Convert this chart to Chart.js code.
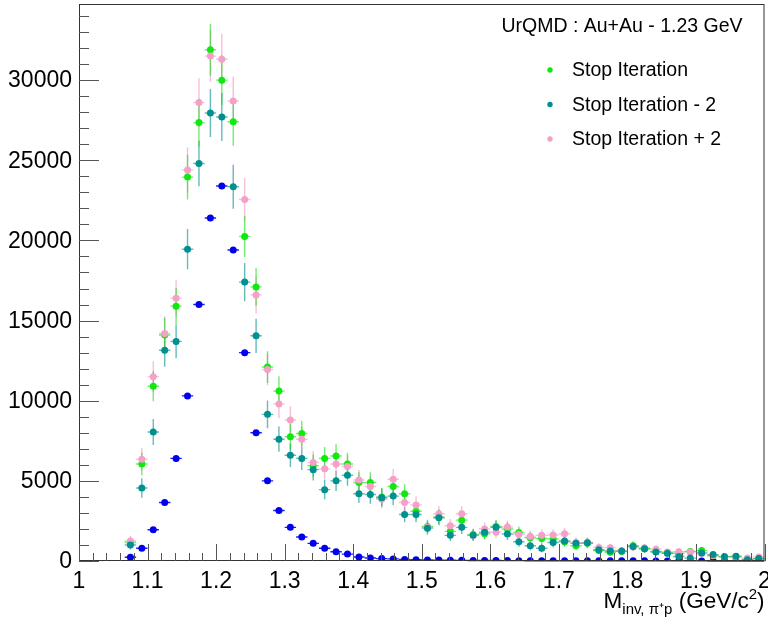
<!DOCTYPE html>
<html>
<head>
<meta charset="utf-8">
<style>
  html, body { margin: 0; padding: 0; background: #fff; }
  #wrap { width: 768px; height: 617px; position: relative; }
</style>
<script src="https://cdn.jsdelivr.net/npm/chart.js@4/dist/chart.umd.min.js"></script>
</head>
<body>
<div id="wrap"><canvas id="chart"></canvas></div>
<script>
// histogram binning: 60 bins per GeV, first filled bin is #4
const BIN_WIDTH = 1 / 60;
const FIRST_BIN = 4;

// counts per bin
const stopIter = [1150, 6050, 10900, 14100, 15900, 23950, 27350, 31900, 30000, 27400,
  20250, 17100, 12100, 10600, 7750, 7950, 5950, 6400, 6550, 6050,
  4900, 4900, 4000, 4650, 4200, 3100, 2150, 2750, 1850, 2550,
  1650, 1700, 2150, 2000, 1780, 1450, 1400, 1380, 1200, 950,
  1100, 650, 540, 600, 950, 760, 600, 500, 470, 600,
  650, 330, 270, 280, 100, 130];
const stopIterMinus2 = [1000, 4550, 8050, 13150, 13700, 19450, 24800, 27950, 27700, 23350,
  17400, 14050, 9150, 7600, 6600, 6400, 5700, 4450, 5000, 5350,
  4200, 4150, 3950, 4050, 2900, 2900, 2050, 2700, 1600, 2100,
  1600, 1800, 2100, 1680, 1200, 950, 800, 1150, 1250, 1100,
  1140, 700, 620, 620, 900, 770, 560, 480, 280, 180,
  500, 400, 270, 290, 80, 150];
const stopIterPlus2 = [1250, 6350, 11500, 14200, 16400, 24400, 28600, 31500, 31300, 28700,
  22550, 16600, 11950, 9800, 8800, 7600, 6150, 5750, 6050, 5900,
  5050, 4650, 3850, 5100, 3650, 3500, 2100, 2950, 2200, 2950,
  1600, 2000, 1800, 2120, 1650, 1550, 1600, 1620, 1700, 1150,
  1150, 850, 820, 640, 880, 820, 740, 560, 580, 560,
  470, 350, 260, 250, 180, 250];
const reference = [230, 800, 1950, 3650, 6400, 10300, 16000, 21400, 23400, 19400,
  13000, 8000, 5000, 3150, 2100, 1500, 1100, 800, 580, 430,
  250, 190, 150, 130, 90, 75, 65, 55, 45, 40,
  35, 30, 28, 25, 22, 20, 18, 16, 15, 14,
  12, 11, 10, 9, 8, 8, 7, 6, 6, 5,
  5, 4, 4, 3, 3, 3];

const xTicks = [1, 1.1, 1.2, 1.3, 1.4, 1.5, 1.6, 1.7, 1.8, 1.9, 2];
const xTickLabels = ["1", "1.1", "1.2", "1.3", "1.4", "1.5", "1.6", "1.7", "1.8", "1.9", "2"];
const yTicks = [0, 5000, 10000, 15000, 20000, 25000, 30000];
const yTickLabels = ["0", "5000", "10000", "15000", "20000", "25000", "30000"];

const FONT = '"Liberation Sans", Arial, Helvetica, sans-serif';

function toPoints(counts) {
  return counts.map((v, i) => ({ x: 1 + (FIRST_BIN + i + 0.5) * BIN_WIDTH, y: v }));
}

// error bars (+-half bin in x, statistical in y) drawn under the markers
const errorBars = {
  id: "errorBars",
  beforeDatasetsDraw(chart) {
    const ctx = chart.ctx;
    const xs = chart.scales.x, ys = chart.scales.y;
    ctx.save();
    chart.data.datasets.forEach((ds) => {
      ctx.strokeStyle = ds.barColor;
      ctx.lineWidth = 1.4;
      ds.data.forEach((p) => {
        const px = xs.getPixelForValue(p.x);
        const py = ys.getPixelForValue(p.y);
        const e = ds.errScale * Math.sqrt(p.y);
        ctx.beginPath();
        ctx.moveTo(xs.getPixelForValue(p.x - BIN_WIDTH / 2), py);
        ctx.lineTo(xs.getPixelForValue(p.x + BIN_WIDTH / 2), py);
        ctx.moveTo(px, ys.getPixelForValue(p.y + e));
        ctx.lineTo(px, ys.getPixelForValue(Math.max(0, p.y - e)));
        ctx.stroke();
      });
    });
    ctx.restore();
  },
};

// ROOT style frame, inward ticks, labels, title and legend
const rootFrame = {
  id: "rootFrame",
  afterDraw(chart) {
    const ctx = chart.ctx;
    const a = chart.chartArea;
    const xs = chart.scales.x, ys = chart.scales.y;
    ctx.save();

    // frame
    ctx.strokeStyle = "#333";
    ctx.lineWidth = 1;
    ctx.strokeRect(a.left + 0.5, a.top + 0.5, a.right - a.left - 1, a.bottom - a.top - 1);

    // y ticks
    ctx.strokeStyle = "#555";
    ctx.beginPath();
    for (let v = 0; v <= ys.max; v += 1000) {
      const py = Math.round(ys.getPixelForValue(v)) + 0.5;
      const len = v % 5000 === 0 ? 20 : 10;
      ctx.moveTo(a.left, py);
      ctx.lineTo(a.left + len, py);
    }
    // x ticks
    for (let k = 0; k <= 50; k++) {
      const px = Math.round(xs.getPixelForValue(1 + k * 0.02)) + 0.5;
      const len = k % 5 === 0 ? 17 : 8;
      ctx.moveTo(px, a.bottom);
      ctx.lineTo(px, a.bottom - len);
    }
    ctx.stroke();

    // tick labels
    ctx.fillStyle = "#000";
    ctx.font = "23px " + FONT;
    ctx.textAlign = "right";
    ctx.textBaseline = "middle";
    yTicks.forEach((v, i) => {
      ctx.fillText(yTickLabels[i], a.left - 7, ys.getPixelForValue(v) + 1);
    });
    ctx.textAlign = "center";
    ctx.textBaseline = "alphabetic";
    xTicks.forEach((v, i) => {
      ctx.fillText(xTickLabels[i], xs.getPixelForValue(v), a.bottom + 27);
    });

    // axis title M_{inv, pi+p} (GeV/c^2)
    const big = "22.5px " + FONT, small = "15px " + FONT;
    const parts = [
      { t: "M", f: big, dy: 0 },
      { t: "inv, \u03c0\u207ap", f: small, dy: 6 },
      { t: " (GeV/c", f: big, dy: 0 },
      { t: "2", f: small, dy: -9 },
      { t: ")", f: big, dy: 0 },
    ];
    let total = 0;
    parts.forEach((p) => { ctx.font = p.f; p.w = ctx.measureText(p.t).width; total += p.w; });
    let cx = a.right - total;
    ctx.textAlign = "left";
    parts.forEach((p) => {
      ctx.font = p.f;
      ctx.fillText(p.t, cx, 608 + p.dy);
      cx += p.w;
    });

    // legend
    ctx.font = "19.5px " + FONT;
    ctx.textAlign = "center";
    ctx.textBaseline = "middle";
    ctx.fillText("UrQMD : Au+Au - 1.23 GeV", 622, 27);
    ctx.font = "19.5px " + FONT;
    ctx.textAlign = "left";
    let ly = 70;
    chart.data.datasets.filter((ds) => ds.label).sort((p, q) => p.legendRank - q.legendRank).forEach((ds) => {
      ctx.fillStyle = ds.backgroundColor;
      ctx.beginPath();
      ctx.arc(550, ly, 2.7, 0, Math.PI * 2);
      ctx.fill();
      ctx.fillStyle = "#000";
      ctx.fillText(ds.label, 572, ly + 1);
      ly += 34.5;
    });
    ctx.restore();
  },
};

const marker = { pointRadius: 3.5, pointHoverRadius: 3.5, pointBorderWidth: 0, showLine: false };

new Chart(document.getElementById("chart"), {
  type: "scatter",
  data: {
    datasets: [
      { label: "Stop Iteration - 2", data: toPoints(stopIterMinus2), backgroundColor: "#009090",
        borderColor: "#009090", barColor: "rgba(0,140,140,0.6)", errScale: 9, legendRank: 1, order: 0, ...marker },
      { label: "Stop Iteration + 2", data: toPoints(stopIterPlus2), backgroundColor: "#f5a0c8",
        borderColor: "#f5a0c8", barColor: "rgba(240,150,195,0.6)", errScale: 9, legendRank: 2, order: 1, ...marker },
      { label: "Stop Iteration", data: toPoints(stopIter), backgroundColor: "#10e810",
        borderColor: "#10e810", barColor: "rgba(0,220,0,0.55)", errScale: 9, legendRank: 0, order: 2, ...marker },
      { label: "", data: toPoints(reference), backgroundColor: "#0000ee",
        borderColor: "#0000ee", barColor: "#2020ee", errScale: 1, legendRank: 3, order: 3, ...marker },
    ],
  },
  options: {
    responsive: true,
    maintainAspectRatio: false,
    animation: false,
    layout: { padding: { left: 79, right: 3, top: 4, bottom: 56 } },
    scales: {
      x: { type: "linear", min: 1, max: 2, display: false },
      y: { type: "linear", min: 0, max: 34750, display: false },
    },
    plugins: { legend: { display: false }, tooltip: { enabled: false } },
  },
  plugins: [errorBars, rootFrame],
});
</script>
</body>
</html>
